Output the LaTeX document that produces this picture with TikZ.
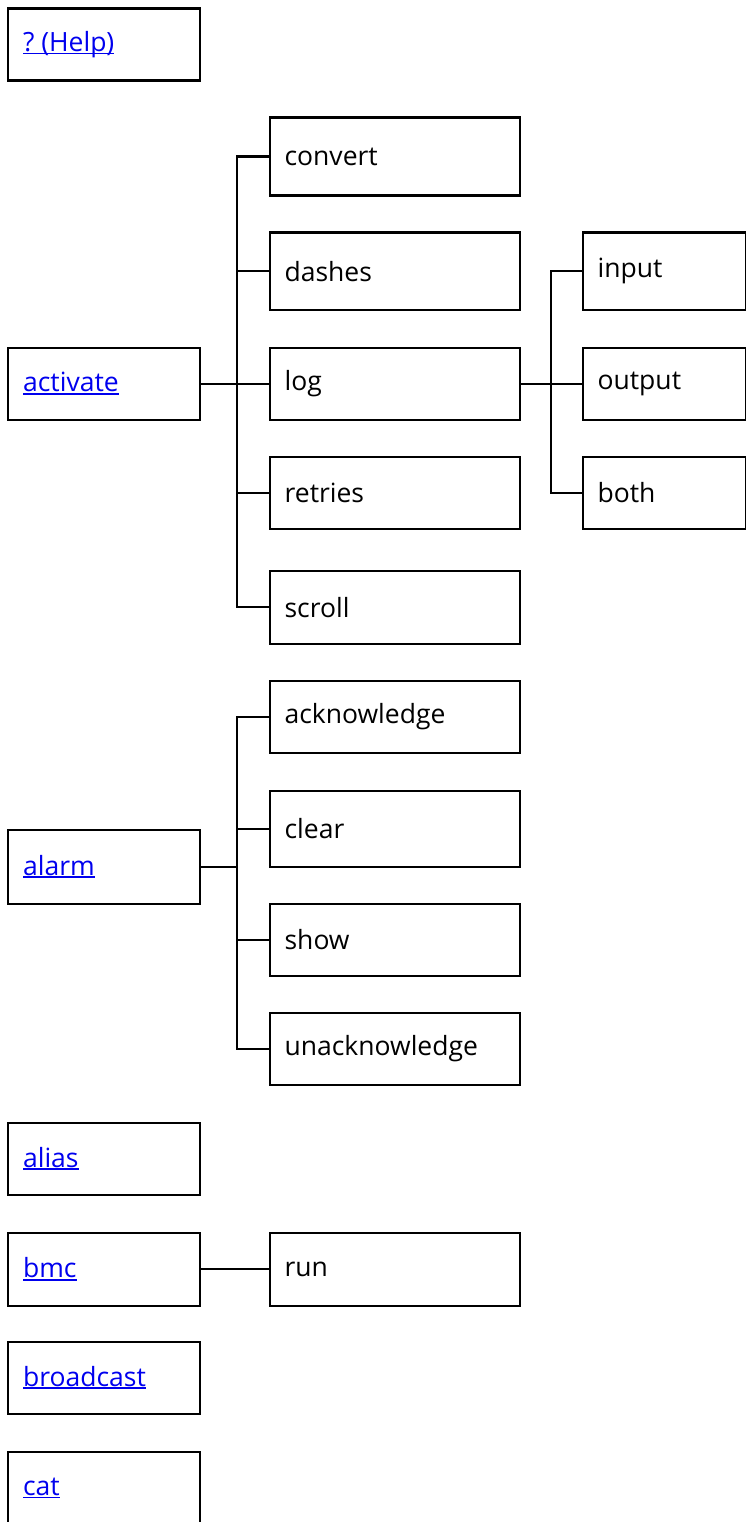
\documentclass[tikz,border=0pt]{standalone}
\usepackage{fontspec}
\setmainfont{Open Sans}
\definecolor{linkblue}{RGB}{0,0,238}
\newcommand{\lnk}[1]{\textcolor{linkblue}{\setbox0\hbox{#1}\rlap{\rule[-3pt]{\wd0}{1.8pt}}\box0}}
\begin{document}
\begin{tikzpicture}[x=1pt,y=-1pt,
  box/.style={draw,line width=2.2pt,rectangle,anchor=north west,inner xsep=15pt,inner ysep=0pt,align=left,
    font=\fontsize{26.5}{30}\selectfont},
  small/.style={box,text width=162pt},
  wide/.style={box,text width=220pt},
  leaf/.style={box,text width=133pt},
  conn/.style={line width=2.2pt}]
\useasboundingbox (0,0) rectangle (746,1522);
\clip (0,0) rectangle (746,1522);
% level 1
\node[small,minimum height=72pt] (help) at (7,7.5) {\lnk{?\kern-2pt\ (Help)}};
\node[small,minimum height=72pt] (activate) at (7,346.5) {\lnk{activate}};
\node[small,minimum height=74pt] (alarm) at (7,828.5) {\lnk{alarm}};
\node[small,minimum height=72pt] (alias) at (7,1121.5) {\lnk{alias}};
\node[small,minimum height=73pt] (bmc) at (7,1231.5) {\lnk{bmc}};
\node[small,minimum height=72pt] (broadcast) at (7,1340.5) {\lnk{broadcast}};
\node[small,minimum height=73pt] (cat) at (7,1450.5) {\lnk{cat}};
% activate children
\node[wide,minimum height=78pt] (convert) at (268.5,116.5) {convert};
\node[wide,minimum height=77pt] (dashes) at (268.5,231.5) {dashes};
\node[wide,minimum height=72pt] (log) at (268.5,346.5) {log};
\node[wide,minimum height=72pt] (retries) at (268.5,455.5) {retries};
\node[wide,minimum height=73pt] (scroll) at (268.5,569.5) {scroll};
% log children
\node[leaf,minimum height=77pt] (input) at (581.5,231.5) {input};
\node[leaf,minimum height=72pt] (output) at (581.5,346.5) {output};
\node[leaf,minimum height=72pt] (both) at (581.5,455.5) {both};
% alarm children
\node[wide,minimum height=72pt] (ack) at (268.5,679.5) {acknowledge};
\node[wide,minimum height=76pt] (clear) at (268.5,789.5) {clear};
\node[wide,minimum height=72pt] (show) at (268.5,902.5) {show};
\node[wide,minimum height=72pt] (unack) at (268.5,1011.5) {unacknowledge};
% bmc child
\node[wide,minimum height=73pt] (run) at (268.5,1231.5) {run};
% trunks
\coordinate (ta) at (237,0);
\coordinate (tl) at (551,0);
\coordinate (tb) at (237,0);
% activate connectors
\draw[conn] (activate.east) -- (ta |- activate.east);
\draw[conn] (convert.west) -- (ta |- convert.west) -- (ta |- scroll.west) -- (scroll.west);
\draw[conn] (ta |- dashes.west) -- (dashes.west);
\draw[conn] (ta |- log.west) -- (log.west);
\draw[conn] (ta |- retries.west) -- (retries.west);
% log connectors
\draw[conn] (log.east) -- (output.west);
\draw[conn] (input.west) -- (tl |- input.west) -- (tl |- both.west) -- (both.west);
% alarm connectors
\draw[conn] (alarm.east) -- (tb |- alarm.east);
\draw[conn] (ack.west) -- (tb |- ack.west) -- (tb |- unack.west) -- (unack.west);
\draw[conn] (tb |- clear.west) -- (clear.west);
\draw[conn] (tb |- show.west) -- (show.west);
% bmc connector
\draw[conn] (bmc.east) -- (run.west);
\end{tikzpicture}
\end{document}
